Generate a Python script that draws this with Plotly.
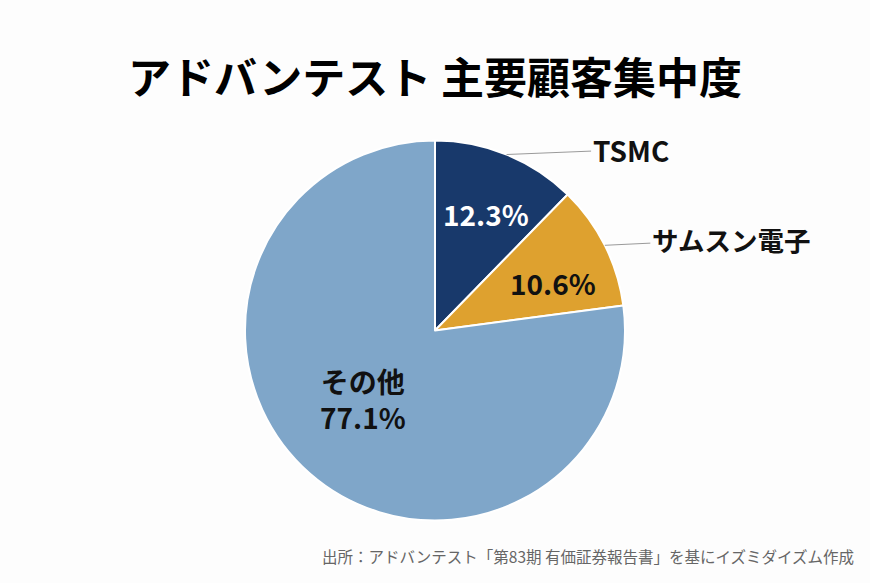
"""
Advantest customer concentration pie chart
"""

import numpy as np
import plotly.graph_objects as go

# Data
labels = ["TSMC", "サムスン電子", "その他"]
values = [12.3, 10.6, 77.1]
colors = ["#18396B", "#DEA12F", "#7FA6C9"]
text_colors = ["#FFFFFF", "#111111", "#111111"]
outside_names = ["TSMC", "サムスン電子"]

TITLE = "アドバンテスト 主要顧客集中度"
SOURCE = "出所：アドバンテスト「第83期 有価証券報告書」を基にイズミダイズム作成"

W, H = 870, 583
FONT = "Noto Sans CJK JP"

# Pie placement in pixels
cx, cy, R = 435, 330.5, 190
dom_x = [(cx - R) / W, (cx + R) / W]
dom_y = [1 - (cy + R) / H, 1 - (cy - R) / H]

fig = go.Figure()

fig.add_trace(
    go.Pie(
        labels=labels,
        values=values,
        sort=False,
        direction="clockwise",
        rotation=0,
        marker=dict(colors=colors, line=dict(color="#FFFFFF", width=2)),
        textinfo="none",
        hoverinfo="label+percent",
        showlegend=False,
        domain=dict(x=dom_x, y=dom_y),
    )
)


def to_paper(px, py):
    return px / W, 1 - py / H


# Angles of slice midpoints (clockwise from 12 o'clock)
total = sum(values)
cum = np.cumsum([0] + values[:-1])
mid = [(c + v / 2) / total * 2 * np.pi for c, v in zip(cum, values)]

# Inside labels (small nudge of angle so text sits like the original)
radius_frac = [0.67, 0.67, 0.52]
angle_nudge = [0.03, 0.08, 0.09]
for i, ang in enumerate(mid):
    r = R * radius_frac[i]
    a = ang + angle_nudge[i]
    px = cx + r * np.sin(a)
    py = cy - r * np.cos(a)
    x, y = to_paper(px, py)
    txt = f"{values[i]:.1f}%"
    if i == 2:
        txt = f"{labels[i]}<br>{txt}"
    fig.add_annotation(
        x=x, y=y, xref="paper", yref="paper",
        xanchor="center", yanchor="middle",
        text=f"<b>{txt}</b>",
        showarrow=False,
        font=dict(family=FONT, size=28, color=text_colors[i]),
        align="center",
    )

# Outside labels with leader lines
offsets = [(124, -5), (126, -6)]
label_sizes = [28, 26.5]
for i, name in enumerate(outside_names):
    ang = mid[i]
    px = cx + R * np.sin(ang)
    py = cy - R * np.cos(ang)
    x, y = to_paper(px, py)
    fig.add_annotation(
        x=x, y=y, xref="paper", yref="paper",
        text=f"<b>{name}</b>",
        showarrow=True,
        arrowhead=0,
        arrowwidth=1,
        arrowcolor="#9A9A9A",
        ax=offsets[i][0], ay=offsets[i][1],
        font=dict(family=FONT, size=label_sizes[i], color="#111111"),
    )

# Title
fig.add_annotation(
    x=0.5, y=1 - 75 / H, xref="paper", yref="paper",
    xanchor="center", yanchor="middle",
    text=f"<b>{TITLE}</b>",
    showarrow=False,
    font=dict(family=FONT, size=43, color="#000000"),
)

# Source note
fig.add_annotation(
    x=856 / W, y=1 - 556 / H, xref="paper", yref="paper",
    xanchor="right", yanchor="middle",
    text=SOURCE,
    showarrow=False,
    font=dict(family=FONT, size=15.5, color="#666666"),
)

fig.update_layout(
    width=W,
    height=H,
    margin=dict(l=0, r=0, t=0, b=0),
    paper_bgcolor="#FDFDFD",
    plot_bgcolor="#FDFDFD",
)

# drop the default page margin so the figure fills the window
fig.write_html(
    "out.html",
    config={"displayModeBar": False},
    post_script="document.body.style.margin='0';",
)
